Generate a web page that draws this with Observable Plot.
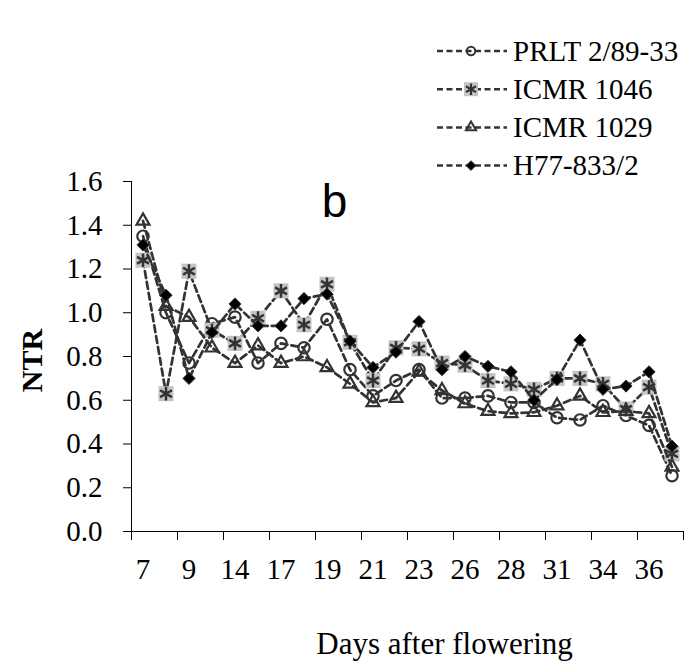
<!DOCTYPE html>
<html><head><meta charset="utf-8">
<script src="https://cdn.jsdelivr.net/npm/d3@7"></script>
<script src="https://cdn.jsdelivr.net/npm/@observablehq/plot@0.6"></script>
<style>body{margin:0;background:#fff;} #chart{width:690px;height:661px;}</style>
</head><body><div id="chart"></div>
<script>
// Categories: days after flowering (only every other one is labelled on the axis)
const categories = [7, 8, 9, 12, 14, 16, 17, 18, 19, 20, 21, 22, 23, 24, 26, 27, 28, 29, 31, 33, 34, 35, 36, 38];
const shownLabels = [7, 9, 14, 17, 19, 21, 23, 26, 28, 31, 34, 36];
const seriesNames = ["PRLT 2/89-33", "ICMR 1046", "ICMR 1029", "H77-833/2"];
const prlt     = [1.35, 1.00, 0.77, 0.95, 0.98, 0.77, 0.86, 0.84, 0.97, 0.74, 0.62, 0.69, 0.74, 0.61, 0.61, 0.62, 0.59, 0.59, 0.52, 0.51, 0.575, 0.53, 0.485, 0.255];
const icmr1046 = [1.24, 0.63, 1.19, 0.92, 0.86, 0.975, 1.10, 0.945, 1.13, 0.865, 0.69, 0.84, 0.835, 0.77, 0.76, 0.69, 0.675, 0.65, 0.70, 0.70, 0.675, 0.56, 0.66, 0.355];
const icmr1029 = [1.42, 1.03, 0.98, 0.84, 0.77, 0.85, 0.77, 0.80, 0.75, 0.675, 0.59, 0.61, 0.73, 0.645, 0.585, 0.55, 0.54, 0.545, 0.575, 0.62, 0.545, 0.55, 0.54, 0.295];
const h77      = [1.31, 1.08, 0.70, 0.91, 1.04, 0.94, 0.94, 1.065, 1.085, 0.87, 0.75, 0.82, 0.96, 0.74, 0.80, 0.755, 0.73, 0.60, 0.695, 0.875, 0.65, 0.665, 0.73, 0.39];
const yTicks = [0, 0.2, 0.4, 0.6, 0.8, 1.0, 1.2, 1.4, 1.6];

const LINE = "#333333";
const rows = (vals, name) => vals.map((v, i) => ({x: i + 0.5, y: v, series: name, day: categories[i]}));
const dP = rows(prlt, seriesNames[0]);
const d46 = rows(icmr1046, seriesNames[1]);
const d29 = rows(icmr1029, seriesNames[2]);
const dH = rows(h77, seriesNames[3]);

const boundaryTicks = d3.range(0, categories.length + 1, 2);
const labelTicks = categories.map((c, i) => ({c, p: i + 0.5})).filter(d => shownLabels.includes(d.c)).map(d => d.p);

const lineOpts = {x: "x", y: "y", stroke: LINE, strokeWidth: 2.7, strokeDasharray: "7,4"};
const serif = "Liberation Serif, 'Times New Roman', serif";

const plot = Plot.plot({
  width: 690, height: 661,
  marginTop: 181, marginBottom: 130, marginLeft: 131, marginRight: 7,
  x: {domain: [0, categories.length], axis: null},
  y: {domain: [0, 1.6], axis: null},
  style: {fontFamily: serif, fontSize: "29px", color: "#000", background: "#fff"},
  marks: [
    Plot.axisY({ticks: yTicks, tickFormat: d3.format(".1f"), tickSize: 8, tickPadding: 21, fontSize: 29, label: null}),
    Plot.axisX({ticks: boundaryTicks, tickSize: 9, tickFormat: () => "", label: null}),
    Plot.axisX({ticks: labelTicks, tickSize: 0, tickPadding: 27, fontSize: 29, label: null,
      tickFormat: p => categories[Math.round(p - 0.5)]}),
    Plot.ruleX([0], {y1: 0, y2: 1.6, stroke: "#000"}),
    Plot.ruleY([0], {stroke: "#000"}),
    // series 1
    Plot.line(dP, lineOpts),
    Plot.dot(dP, {x: "x", y: "y", symbol: "circle", r: 5.7, stroke: LINE, strokeWidth: 2.2, fill: "none"}),
    // series 2
    Plot.line(d46, lineOpts),
    Plot.dot(d46, {x: "x", y: "y", symbol: "square", r: 8.5, fill: "#c4c4c4", stroke: "none"}),
    Plot.dot(d46, {x: "x", y: "y", symbol: "asterisk", r: 6.5, stroke: LINE, strokeWidth: 2.5}),
    // series 3
    Plot.line(d29, lineOpts),
    Plot.dot(d29, {x: "x", y: "y", symbol: "triangle", r: 4.8, stroke: LINE, strokeWidth: 2.2, fill: "none"}),
    // series 4
    Plot.line(dH, lineOpts),
    Plot.dot(dH, {x: "x", y: "y", symbol: "diamond2", r: 5.5, fill: "#000", stroke: LINE, strokeWidth: 1}),
    // texts
    Plot.text(["NTR"], {text: d => d, frameAnchor: "left", dx: -99, dy: 4, rotate: -90, textAnchor: "middle", fontWeight: "bold", fontSize: 30}),
    Plot.text(["Days after flowering"], {text: d => d, frameAnchor: "bottom", dx: 37, dy: 122, lineAnchor: "bottom", textAnchor: "middle", fontSize: 31}),
    Plot.text(["b"], {text: d => d, frameAnchor: "top-left", dx: 203, dy: 35, lineAnchor: "bottom", textAnchor: "middle",
      fontFamily: "Liberation Sans, Arial, sans-serif", fontSize: 46})
  ]
});
document.getElementById("chart").appendChild(plot);

// Legend (drawn into the same SVG)
const svg = d3.select(plot);
const lg = svg.append("g").attr("text-anchor", "start");
const markerDefs = [
  (g) => g.append("path").attr("d", d3.symbol(d3.symbolCircle, Math.PI * 4.2 * 4.2)()).attr("fill", "none").attr("stroke", LINE).attr("stroke-width", 2),
  (g) => { g.append("rect").attr("x", -7).attr("y", -7).attr("width", 14).attr("height", 14).attr("fill", "#c4c4c4");
           g.append("path").attr("d", d3.symbol(d3.symbolAsterisk, Math.PI * 5.5 * 5.5)()).attr("fill", "none").attr("stroke", LINE).attr("stroke-width", 2.2); },
  (g) => g.append("path").attr("d", d3.symbol(d3.symbolTriangle, Math.PI * 3.8 * 3.8)()).attr("fill", "none").attr("stroke", LINE).attr("stroke-width", 2),
  (g) => g.append("path").attr("d", d3.symbol(d3.symbolDiamond2, Math.PI * 4.4 * 4.4)()).attr("fill", "#000").attr("stroke", LINE)
];
seriesNames.forEach((name, i) => {
  const y = 51 + i * 38.2;
  lg.append("line").attr("x1", 437).attr("x2", 507).attr("y1", y).attr("y2", y)
    .attr("stroke", LINE).attr("stroke-width", 2.5).attr("stroke-dasharray", "6,3.5");
  const m = lg.append("g").attr("transform", `translate(471,${y})`);
  markerDefs[i](m);
  lg.append("text").attr("x", 513).attr("y", y).attr("dy", "0.34em").attr("text-anchor", "start")
    .attr("font-family", serif).attr("font-size", 29).attr("fill", "#000").text(name);
});
</script></body></html>
